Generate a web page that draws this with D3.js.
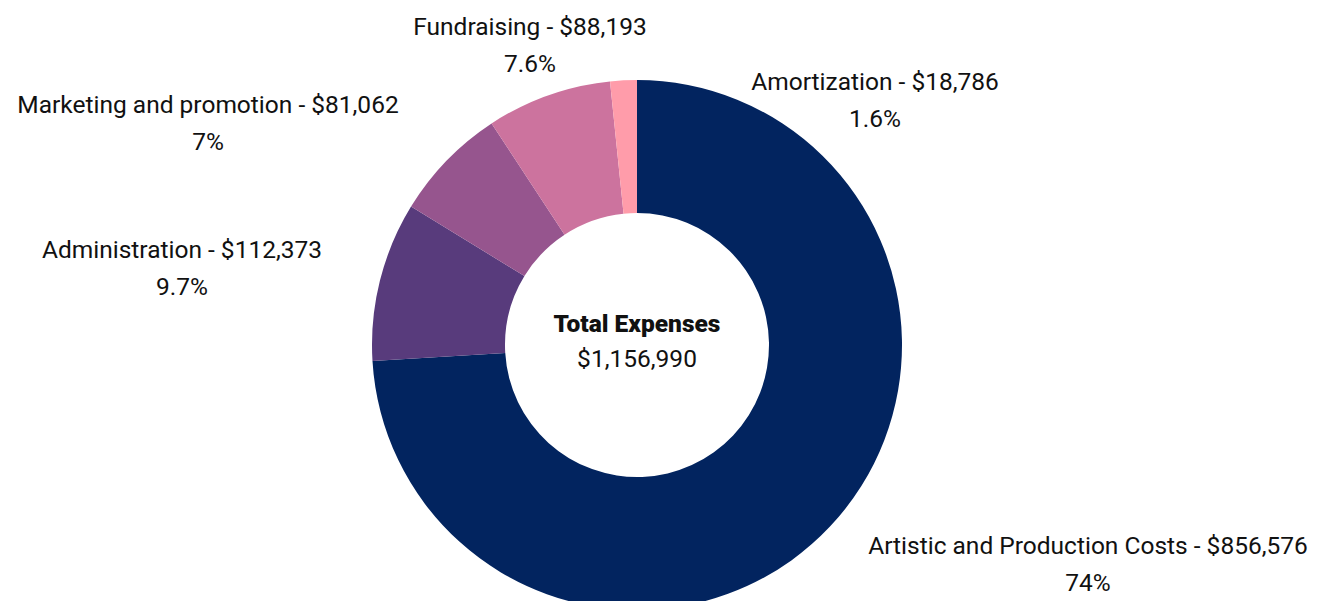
<!DOCTYPE html>
<html><head><meta charset="utf-8">
<script src="https://cdn.jsdelivr.net/npm/d3@7"></script>
<style>
html,body{margin:0;padding:0;background:#fff;overflow:hidden}
text{font-family:Roboto,"Noto Sans",sans-serif;fill:#111}
</style></head>
<body>
<svg id="c" width="1341" height="601"></svg>
<script>
const categories = ["Artistic and Production Costs","Administration","Marketing and promotion","Fundraising","Amortization"];
const values = [856576,112373,81062,88193,18786];
const percentLabels = ["74%","9.7%","7%","7.6%","1.6%"];
const colors = ["#02245F","#583B7C","#96558E","#CC739E","#FF9CAA"];
const centerTitle = "Total Expenses";
const centerValue = "$1,156,990";

const W=1341,H=601, cx=637, cy=345, rOuter=265, rInner=132;
// label anchor layout (pixel offsets from chart center)
const labelLayout = {
  "Artistic and Production Costs":[451,219],
  "Administration":[-455,-77],
  "Marketing and promotion":[-429,-222],
  "Fundraising":[-107,-300],
  "Amortization":[238,-245]
};
const svg=d3.select("#c");
const g=svg.append("g").attr("transform",`translate(${cx},${cy})`);
const data=categories.map((c,i)=>({name:c,value:values[i],pct:percentLabels[i],color:colors[i]}));
const pie=d3.pie().sort(null).value(d=>d.value);
const arc=d3.arc().innerRadius(rInner).outerRadius(rOuter);
g.selectAll("path").data(pie(data)).join("path").attr("d",arc).attr("fill",d=>d.data.color);

const fmt=d3.format("$,");
const lab=g.selectAll("g.lab").data(data).join("g").attr("class","lab")
  .attr("transform",d=>`translate(${labelLayout[d.name][0]},${labelLayout[d.name][1]})`);
lab.append("text").attr("text-anchor","middle").attr("font-size",24.5).attr("y",-10)
  .text(d=>`${d.name} - ${fmt(d.value)}`);
lab.append("text").attr("text-anchor","middle").attr("font-size",24.5).attr("y",27)
  .text(d=>d.pct);

g.append("text").attr("text-anchor","middle").attr("y",-13).attr("font-size",24.5).attr("font-weight",900).text(centerTitle);
g.append("text").attr("text-anchor","middle").attr("y",22).attr("font-size",24.5).text(centerValue);
</script>
</body></html>
